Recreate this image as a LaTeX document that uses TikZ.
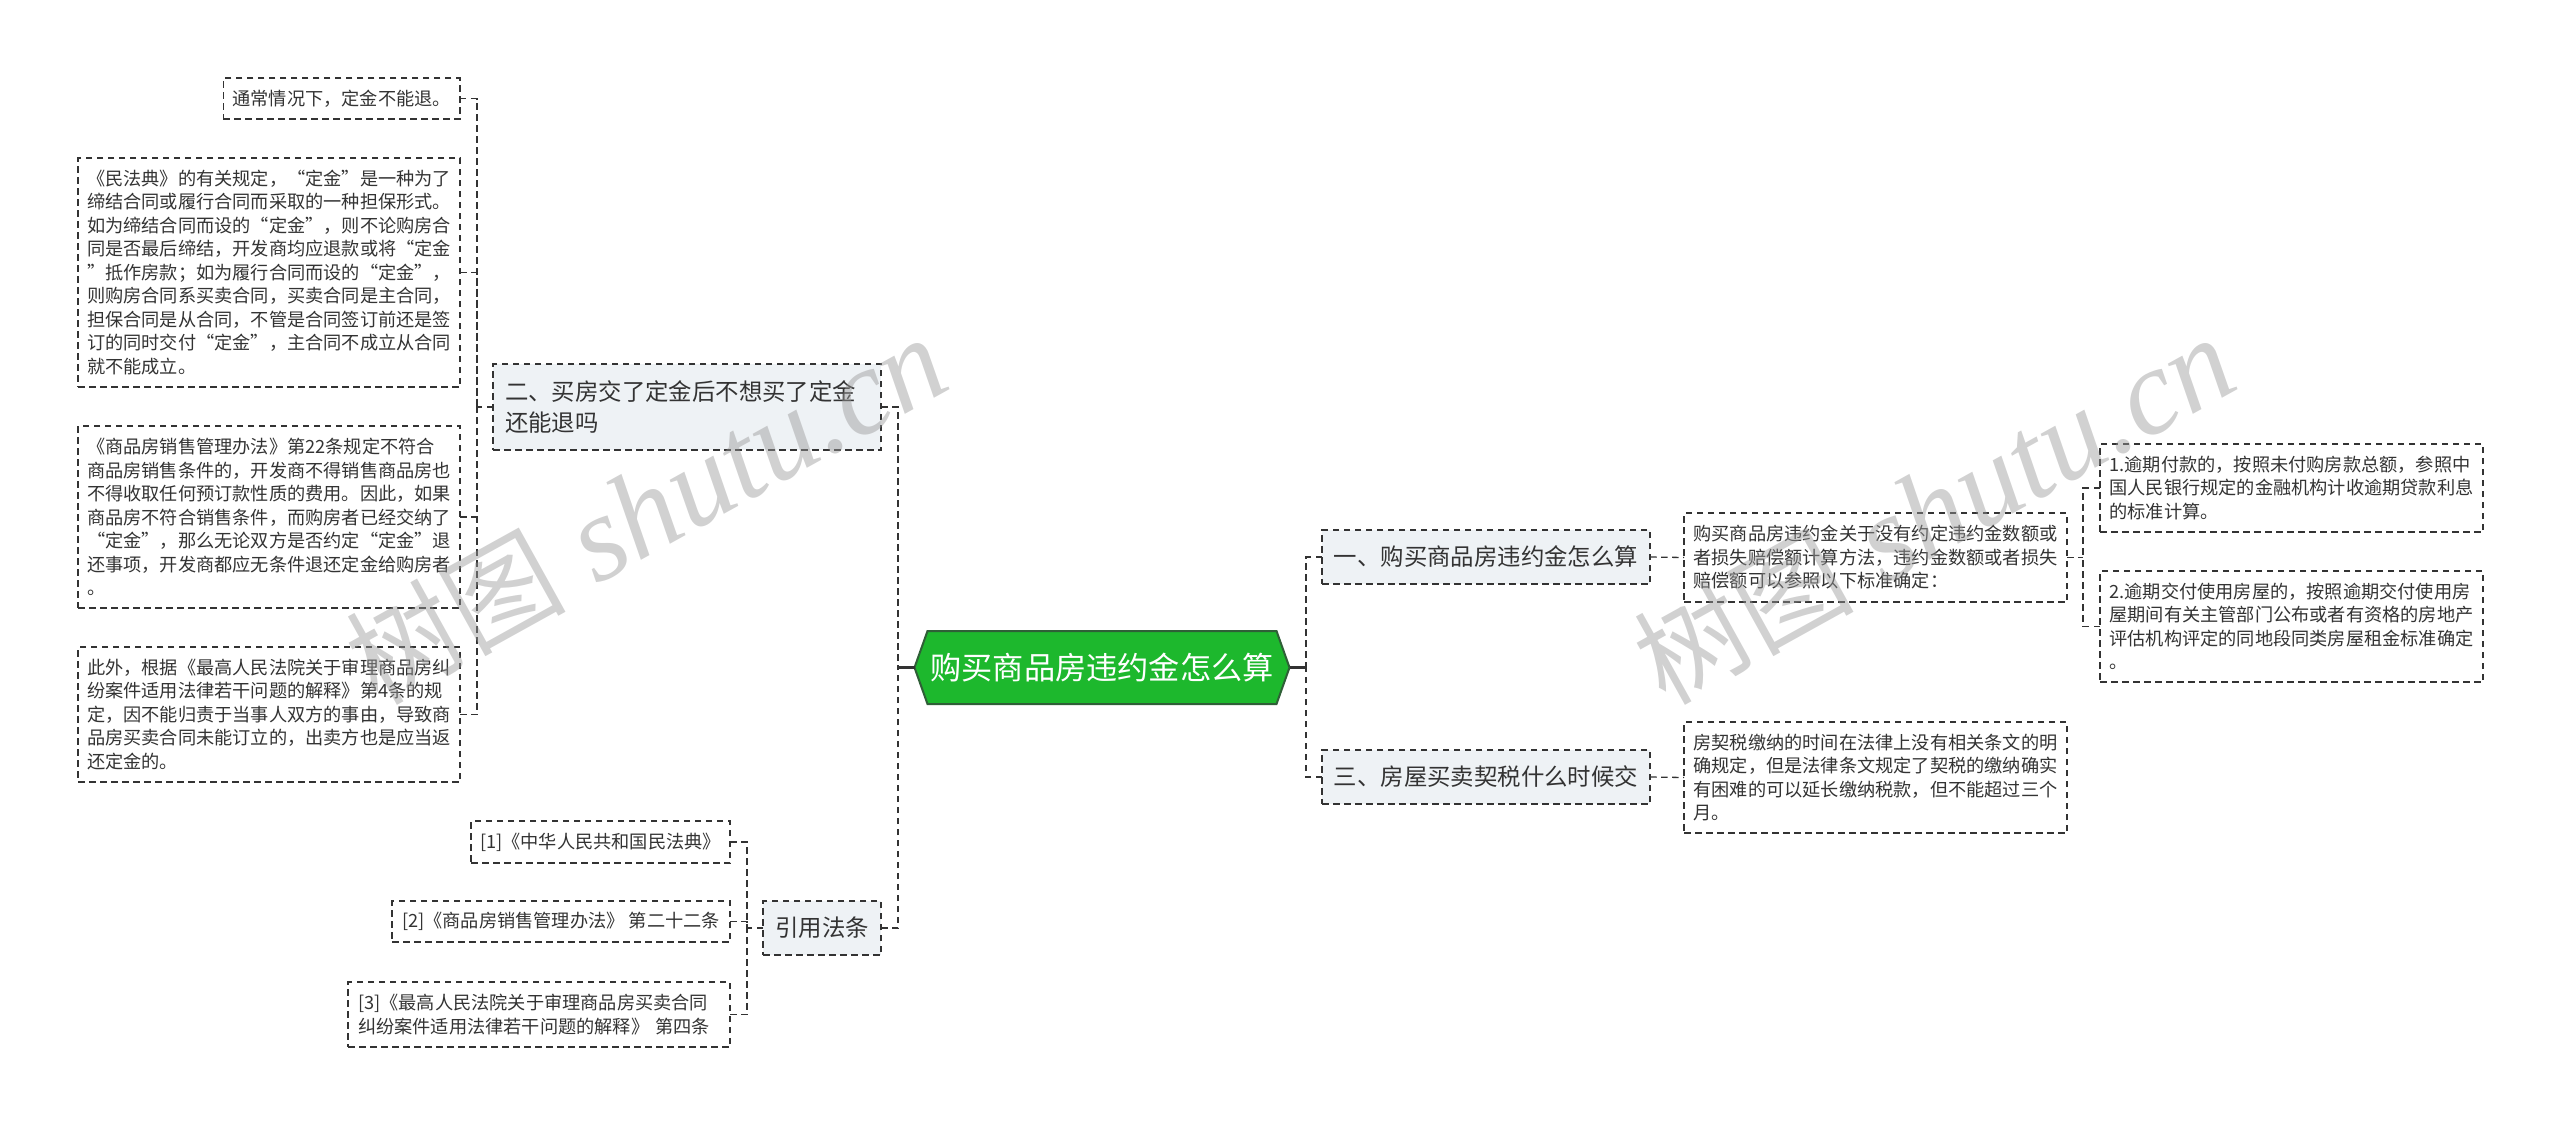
\documentclass[tikz,border=0pt]{standalone}
\usepackage{fontspec}
\setmainfont{Noto Sans CJK SC}
\newfontfamily\wmlatin{Liberation Serif}
\usetikzlibrary{calc,backgrounds}
\definecolor{inkc}{HTML}{333333}
\definecolor{linec}{HTML}{333333}
\definecolor{topicfill}{HTML}{EEF2F5}
\definecolor{rootfill}{HTML}{1DB82D}
\definecolor{rootline}{HTML}{2F5F37}
\tikzset{
  box/.style={draw=linec,line width=1.3pt,dash pattern=on 6.5pt off 4.5pt,inner sep=0pt,outer sep=0pt,align=left,text=inkc},
  leaf/.style={box,font=\fontsize{18.2}{23.5}\selectfont},
  topic/.style={box,fill=topicfill,font=\fontsize{23.4}{31.5}\selectfont},
  rootnode/.style={inner sep=0pt,outer sep=0pt,text=white,font=\fontsize{31.2}{38}\selectfont},
  conn/.style={draw=linec,line width=1.3pt,dash pattern=on 6.5pt off 4.5pt},
  trunk/.style={draw=linec,line width=2.2pt,dash pattern=on 6.5pt off 4.5pt},
  stem/.style={draw=linec,line width=2.2pt},
  wmark/.style={rotate=29,text=black!40,opacity=.45,inner sep=0pt}
}
\begin{document}
\begin{tikzpicture}[x=1pt,y=-1pt]
\useasboundingbox (0,0) rectangle (2560,1125);
% root
\node[rootnode,minimum width=375pt,minimum height=73pt] (root) at (1102,667.5) {购买商品房违约金怎么算};
\begin{scope}[on background layer]
\draw[fill=rootfill,draw=rootline,line width=2pt,line join=miter]
 (root.west) -- ($(root.north west)+(13,0)$) -- ($(root.north east)+(-13,0)$) -- (root.east)
 -- ($(root.south east)+(-13,0)$) -- ($(root.south west)+(13,0)$) -- cycle;
\end{scope}
% left side
\node[topic,minimum width=388pt,minimum height=86pt,text width=364pt] (t2) at (687,407) {二、买房交了定金后不想买了定金\\还能退吗};
\node[topic,minimum width=118pt,minimum height=54pt] (t4) at (822,928) {引用法条};
\node[leaf,minimum width=236.5pt,minimum height=41pt] (a) at (341.7,98.5) {通常情况下，定金不能退。};
\node[leaf,minimum width=382pt,minimum height=229pt] (b) at (269,272.5) {《民法典》的有关规定，“定金”是一种为了\\缔结合同或履行合同而采取的一种担保形式。\\如为缔结合同而设的“定金”，则不论购房合\\同是否最后缔结，开发商均应退款或将“定金\\”抵作房款；如为履行合同而设的“定金”，\\则购房合同系买卖合同，买卖合同是主合同，\\担保合同是从合同，不管是合同签订前还是签\\订的同时交付“定金”，主合同不成立从合同\\就不能成立。};
\node[leaf,minimum width=382pt,minimum height=182pt] (c) at (269,517) {《商品房销售管理办法》第22条规定不符合\\商品房销售条件的，开发商不得销售商品房也\\不得收取任何预订款性质的费用。因此，如果\\商品房不符合销售条件，而购房者已经交纳了\\“定金”，那么无论双方是否约定“定金”退\\还事项，开发商都应无条件退还定金给购房者\\。};
\node[leaf,minimum width=382pt,minimum height=135pt] (d) at (269,714.5) {此外，根据《最高人民法院关于审理商品房纠\\纷案件适用法律若干问题的解释》第4条的规\\定，因不能归责于当事人双方的事由，导致商\\品房买卖合同未能订立的，出卖方也是应当返\\还定金的。};
\node[leaf,minimum width=259pt,minimum height=42pt] (l1) at (600.5,842) {[1]《中华人民共和国民法典》};
\node[leaf,minimum width=338pt,minimum height=41pt] (l2) at (561,921.5) {[2]《商品房销售管理办法》 第二十二条};
\node[leaf,minimum width=382pt,minimum height=65pt,text width=362pt] (l3) at (539,1014.5) {[3]《最高人民法院关于审理商品房买卖合同\\纠纷案件适用法律若干问题的解释》 第四条};
% right side
\node[topic,minimum width=328pt,minimum height=54pt] (t1) at (1486,557) {一、购买商品房违约金怎么算};
\node[topic,minimum width=328pt,minimum height=54pt] (t3) at (1486,777) {三、房屋买卖契税什么时候交};
\node[leaf,minimum width=383pt,minimum height=89pt] (e) at (1875.5,557.5) {购买商品房违约金关于没有约定违约金数额或\\者损失赔偿额计算方法，违约金数额或者损失\\赔偿额可以参照以下标准确定：};
\node[leaf,minimum width=383pt,minimum height=111pt] (f) at (1875.5,777.5) {房契税缴纳的时间在法律上没有相关条文的明\\确规定，但是法律条文规定了契税的缴纳确实\\有困难的可以延长缴纳税款，但不能超过三个\\月。};
\node[leaf,minimum width=383pt,minimum height=88pt] (g) at (2291.5,488) {1.逾期付款的，按照未付购房款总额，参照中\\国人民银行规定的金融机构计收逾期贷款利息\\的标准计算。};
\node[leaf,minimum width=383pt,minimum height=111pt] (h) at (2291.5,626.5) {2.逾期交付使用房屋的，按照逾期交付使用房\\屋期间有关主管部门公布或者有资格的房地产\\评估机构评定的同地段同类房屋租金标准确定\\。};
% junctions
\coordinate (jl) at (898,667.5);
\coordinate (jr) at (1306,667.5);
\coordinate (j2) at (477,407);
\coordinate (j4) at (747,928);
\coordinate (je) at (2083,557.5);
% connectors
\draw[stem] (root.west) -- (jl);
\draw[stem] (root.east) -- (jr);
\draw[trunk] (t2.east) -| (jl);
\draw[trunk] (t4.east) -| (jl);
\draw[trunk] (t1.west) -| (jr);
\draw[trunk] (t3.west) -| (jr);
\draw[conn] (t2.west) -- (j2);
\draw[conn] (a.east) -| (j2);
\draw[conn] (b.east) -| (j2);
\draw[conn] (c.east) -| (j2);
\draw[conn] (d.east) -| (j2);
\draw[conn] (t4.west) -- (j4);
\draw[conn] (l1.east) -| (j4);
\draw[conn] (l2.east) -| (j4);
\draw[conn] (l3.east) -| (j4);
\draw[conn] (t1.east) -- (e.west);
\draw[conn] (t3.east) -- (f.west);
\draw[conn] (e.east) -- (je);
\draw[conn] (g.west) -| (je);
\draw[conn] (h.west) -| (je);
% watermarks
\node[wmark] (wa) at (646,510) {\fontsize{110}{120}\selectfont 树图\hspace{30pt}{\fontsize{122}{134}\selectfont\wmlatin\itshape shutu.cn}};
\node[wmark] (wb) at (1934,510) {\fontsize{110}{120}\selectfont 树图\hspace{30pt}{\fontsize{122}{134}\selectfont\wmlatin\itshape shutu.cn}};
\end{tikzpicture}
\end{document}
